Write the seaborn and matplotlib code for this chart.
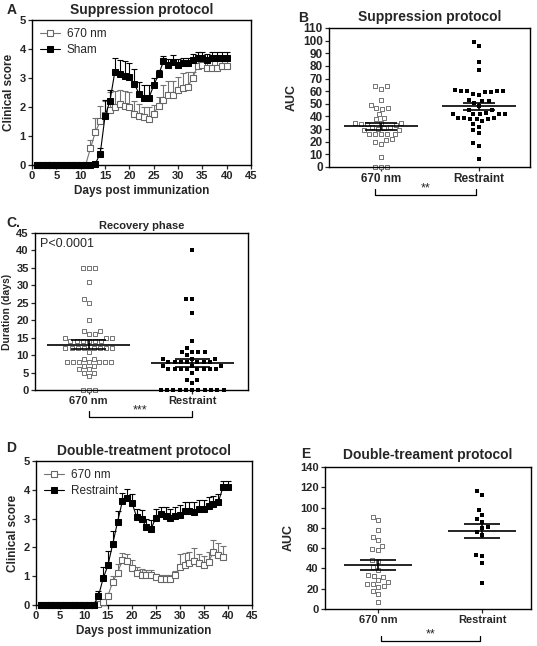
import numpy as np
import pandas as pd
import matplotlib
matplotlib.use("Agg")
import matplotlib.pyplot as plt
from matplotlib.path import Path
import seaborn as sns

sns.set_style("ticks")
plt.rcParams['font.family'] = ['Liberation Sans', 'DejaVu Sans']

# ---- data ----
groups = ["670 nm", "Restraint"]

# A: suppression protocol, clinical score by day
a_days = list(range(1, 41))
a_670 = [0, 0, 0, 0, 0, 0, 0, 0, 0, 0, 0, 0.57, 1.13, 1.5, 1.72, 1.9, 2.0, 2.1, 2.05, 2.0,
         1.75, 1.7, 1.65, 1.6, 1.77, 2.05, 2.25, 2.4, 2.4, 2.6, 2.67, 2.7, 3.0, 3.42, 3.45,
         3.35, 3.35, 3.35, 3.4, 3.4]
a_670_err = [0, 0, 0, 0, 0, 0, 0, 0, 0, 0, 0, 0.3, 0.5, 0.55, 0.5, 0.6, 0.55, 0.5, 0.5, 0.5,
             0.45, 0.4, 0.35, 0.4, 0.3, 0.3, 0.5, 0.5, 0.5, 0.45, 0.5, 0.5, 0.2, 0.15, 0.15,
             0.25, 0.3, 0.35, 0.35, 0.3]
a_sham = [0, 0, 0, 0, 0, 0, 0, 0, 0, 0, 0, 0, 0.05, 0.38, 1.68, 2.2, 3.2, 3.13, 3.08, 3.02,
          2.8, 2.45, 2.3, 2.3, 2.75, 3.12, 3.57, 3.45, 3.55, 3.45, 3.5, 3.5, 3.62, 3.68, 3.68,
          3.62, 3.68, 3.68, 3.68, 3.68]
a_sham_err = [0, 0, 0, 0, 0, 0, 0, 0, 0, 0, 0, 0, 0.05, 0.2, 0.55, 0.4, 0.5, 0.5, 0.5, 0.5,
              0.5, 0.42, 0.45, 0.45, 0.25, 0.15, 0.2, 0.2, 0.25, 0.2, 0.2, 0.2, 0.2, 0.2, 0.2,
              0.2, 0.22, 0.22, 0.22, 0.22]

# B: suppression protocol AUC
b_670 = [64, 62, 64, 53, 47, 46, 47, 49, 39, 38, 42, 35, 35, 34, 35, 34, 32, 33, 32, 31,
         29, 29, 26, 26, 26, 26, 26, 21, 18, 20, 22, 8, 0, 0, 0, 30]
b_restraint = [96, 99, 83, 77, 61, 60, 60, 58, 59, 57, 59, 60, 60, 53, 51, 52, 52, 48, 45, 42,
               42, 42, 42, 43, 42, 45, 39, 38, 38, 39, 38, 39, 32, 34, 36, 27, 29, 19, 17, 6]

# C: recovery phase duration (days)
c_670 = [35, 35, 35, 31, 26, 25, 20, 17, 17, 16, 16, 15, 15, 15, 14, 14, 14, 14, 14, 14,
         12, 12, 12, 12, 12, 12, 12, 12, 11, 9, 9, 8, 8, 8, 8, 8, 8, 8, 7, 7, 6, 6, 5, 5, 4,
         0, 0, 0]
c_restraint = [40, 26, 26, 22, 14, 12, 11, 11, 11, 11, 10, 9, 9, 9, 8, 8, 8, 8, 8, 8, 8,
               7, 7, 7, 6, 6, 6, 6, 6, 6, 6, 6, 5, 3, 3, 2, 0, 0, 0, 0, 0, 0, 0, 0, 0, 0, 0]

# D: double-treatment protocol, clinical score by day
d_days_670 = list(range(1, 40))
d_670 = [0, 0, 0, 0, 0, 0, 0, 0, 0, 0, 0, 0, 0.02, 0.1, 0.32, 0.8, 1.12, 1.55, 1.52, 1.3,
         1.12, 1.05, 1.05, 1.05, 0.97, 0.9, 0.9, 0.9, 1.03, 1.33, 1.4, 1.45, 1.53, 1.47, 1.4,
         1.5, 1.85, 1.75, 1.65]
d_670_err = [0, 0, 0, 0, 0, 0, 0, 0, 0, 0, 0, 0, 0, 0.05, 0.1, 0.2, 0.3, 0.25, 0.25, 0.25,
             0.2, 0.2, 0.15, 0.15, 0.1, 0.15, 0.15, 0.15, 0.15, 0.45, 0.4, 0.4, 0.45, 0.3, 0.3,
             0.35, 0.4, 0.4, 0.4]
d_days_res = list(range(1, 41))
d_res = [0, 0, 0, 0, 0, 0, 0, 0, 0, 0, 0, 0, 0.3, 0.92, 1.38, 2.12, 2.88, 3.6, 3.73, 3.55,
         3.05, 3.0, 2.7, 2.65, 3.03, 3.15, 3.1, 3.03, 3.1, 3.12, 3.27, 3.27, 3.22, 3.33, 3.33,
         3.45, 3.5, 3.57, 4.1, 4.1]
d_res_err = [0, 0, 0, 0, 0, 0, 0, 0, 0, 0, 0, 0, 0.2, 0.4, 0.5, 0.45, 0.4, 0.3, 0.3, 0.3,
             0.3, 0.3, 0.3, 0.3, 0.3, 0.25, 0.3, 0.3, 0.3, 0.35, 0.3, 0.3, 0.35, 0.3, 0.3,
             0.3, 0.3, 0.3, 0.2, 0.2]

# E: double-treatment AUC
e_670 = [91, 88, 78, 71, 68, 62, 58, 59, 48, 47, 38, 41, 34, 32, 29, 33, 27, 25, 22, 23,
         25, 18, 15, 7]
e_restraint = [116, 112, 98, 93, 89, 86, 80, 81, 76, 73, 52, 53, 45, 26]


def square(frac):
    # square marker that fills only part of the swarm spacing, so neighbours keep a gap
    h = frac
    verts = [(-1, -1), (-h, -h), (h, -h), (h, h), (-h, h), (-h, -h)]
    codes = [Path.MOVETO, Path.MOVETO, Path.LINETO, Path.LINETO, Path.LINETO, Path.CLOSEPOLY]
    return Path(verts, codes)


def bold_ticks(ax, size=8):
    ax.tick_params(labelsize=size, length=3, width=0.9, pad=1.5)
    for lab in ax.get_xticklabels() + ax.get_yticklabels():
        lab.set_fontweight('bold')


def box(ax):
    for sp in ax.spines.values():
        sp.set_visible(True)
        sp.set_linewidth(1.0)
        sp.set_color('black')


def score_panel(ax, days1, v1, e1, days2, v2, e2, label2, title, pad):
    v1, e1, v2, e2 = map(np.array, (v1, e1, v2, e2))
    # upper error bars only
    ax.vlines(days1, v1, v1 + e1, color='0.45', lw=0.8, zorder=1)
    ax.scatter(days1, v1 + e1, marker='_', s=22, color='0.45', lw=0.8, zorder=1)
    ax.vlines(days2, v2, v2 + e2, color='black', lw=0.8, zorder=1)
    ax.scatter(days2, v2 + e2, marker='_', s=22, color='black', lw=0.8, zorder=1)
    sns.lineplot(x=days1, y=v1, ax=ax, color='0.45', lw=0.8, marker='s', markersize=4,
                 markerfacecolor='white', markeredgecolor='0.4', markeredgewidth=0.8,
                 label='670 nm', clip_on=False, zorder=3)
    sns.lineplot(x=days2, y=v2, ax=ax, color='black', lw=0.8, marker='s', markersize=4,
                 markerfacecolor='black', markeredgecolor='black', label=label2,
                 clip_on=False, zorder=4)
    ax.set_xlim(0, 45)
    ax.set_ylim(0, 5)
    ax.set_xticks(range(0, 46, 5))
    ax.set_yticks(range(0, 6))
    ax.set_xlabel('Days post immunization', fontsize=8.5, fontweight='bold', labelpad=3)
    ax.set_ylabel('Clinical score', fontsize=8.5, fontweight='bold', labelpad=3)
    ax.set_title(title, fontsize=10, fontweight='bold', pad=pad)
    ax.legend(loc='upper left', frameon=False, fontsize=8.5, handlelength=1.7,
              handletextpad=0.6, borderaxespad=0.25, labelspacing=0.35)
    box(ax)
    bold_ticks(ax, 8)


def dot_panel(ax, v1, v2, mw, sw):
    df = pd.DataFrame({'group': ['670 nm'] * len(v1) + ['Restraint'] * len(v2),
                       'value': list(v1) + list(v2)})
    sns.swarmplot(data=df[df.group == '670 nm'], x='group', y='value', order=groups, ax=ax,
                  marker=square(0.85), color='white', edgecolor='0.45', linewidth=0.7,
                  size=3.5, zorder=2)
    sns.swarmplot(data=df[df.group == 'Restraint'], x='group', y='value', order=groups,
                  ax=ax, marker=square(0.8), color='black', edgecolor='black', linewidth=0,
                  size=4.3, zorder=2)
    for coll in ax.collections:
        coll.set_clip_on(False)
    for i, v in enumerate([v1, v2]):
        v = np.asarray(v, dtype=float)
        m = v.mean()
        s = v.std(ddof=1) / np.sqrt(len(v))
        ax.hlines(m, i - mw, i + mw, color='black', lw=1.2, zorder=5)
        ax.hlines([m - s, m + s], i - sw, i + sw, color='black', lw=1.2, zorder=5)
        ax.vlines(i, m - s, m + s, color='black', lw=1.2, zorder=5)
    ax.set_xlabel('')
    box(ax)


def bracket(ax, x0, x1, y, h, stars):
    tr = ax.get_xaxis_transform()
    ax.plot([x0, x0, x1, x1], [y + h, y, y, y + h], color='black', lw=0.9,
            transform=tr, clip_on=False)
    ax.text((x0 + x1) / 2, y + 0.005, stars, transform=tr, ha='center', va='bottom',
            fontsize=9)


fig = plt.figure(figsize=(5.37, 6.46), dpi=100)

# ---- A ----
axA = fig.add_axes([0.0596, 0.7446, 0.408, 0.2245])
score_panel(axA, a_days, a_670, a_670_err, a_days, a_sham, a_sham_err, 'Sham',
            'Suppression protocol', 4)

# ---- B ----
axB = fig.add_axes([0.6127, 0.7415, 0.3743, 0.2152])
dot_panel(axB, b_670, b_restraint, 0.38, 0.16)
axB.set_xlim(-0.53, 1.52)
axB.set_ylim(0, 110)
axB.set_yticks(range(0, 111, 10))
axB.set_xticks([0, 1])
axB.set_xticklabels(groups)
axB.set_ylabel('AUC', fontsize=9, fontweight='bold', labelpad=4)
axB.set_title('Suppression protocol', fontsize=10, fontweight='bold', pad=5)
bold_ticks(axB, 8.5)
bracket(axB, -0.06, 0.97, -0.2, 0.04, '**')

# ---- C ----
axC = fig.add_axes([0.0652, 0.3963, 0.3966, 0.243])
dot_panel(axC, c_670, c_restraint, 0.4, 0.17)
axC.set_xlim(-0.52, 1.54)
axC.set_ylim(0, 45)
axC.set_yticks(range(0, 46, 5))
axC.set_xticks([0, 1])
axC.set_xticklabels(groups)
axC.set_ylabel('Duration (days)', fontsize=7.5, fontweight='bold', labelpad=3)
axC.set_title('Recovery phase', fontsize=8, fontweight='bold', pad=3)
axC.text(0.025, 0.97, 'P<0.0001', transform=axC.transAxes, ha='left', va='top', fontsize=9)
bold_ticks(axC, 8)
bracket(axC, 0.0, 1.0, -0.172, 0.035, '***')

# ---- D ----
axD = fig.add_axes([0.067, 0.0635, 0.402, 0.2229])
score_panel(axD, d_days_670, d_670, d_670_err, d_days_res, d_res, d_res_err, 'Restraint',
            'Double-treatment protocol', 4)

# ---- E ----
axE = fig.add_axes([0.6052, 0.0573, 0.3836, 0.2198])
dot_panel(axE, e_670, e_restraint, 0.33, 0.17)
axE.set_xlim(-0.51, 1.47)
axE.set_ylim(0, 140)
axE.set_yticks(range(0, 141, 20))
axE.set_xticks([0, 1])
axE.set_xticklabels(groups)
axE.set_ylabel('AUC', fontsize=9, fontweight='bold', labelpad=4)
axE.set_title('Double-treament protocol', fontsize=10, fontweight='bold', pad=6)
bold_ticks(axE, 8)
bracket(axE, 0.03, 0.98, -0.225, 0.035, '**')

# panel letters
for letter, x, y in [('A', 0.012, 0.985), ('B', 0.556, 0.972), ('C.', 0.012, 0.655),
                     ('D', 0.012, 0.307), ('E', 0.56, 0.297)]:
    fig.text(x, y, letter, fontsize=10, fontweight='bold', ha='left', va='center')

fig.savefig('out.png', dpi=100)
